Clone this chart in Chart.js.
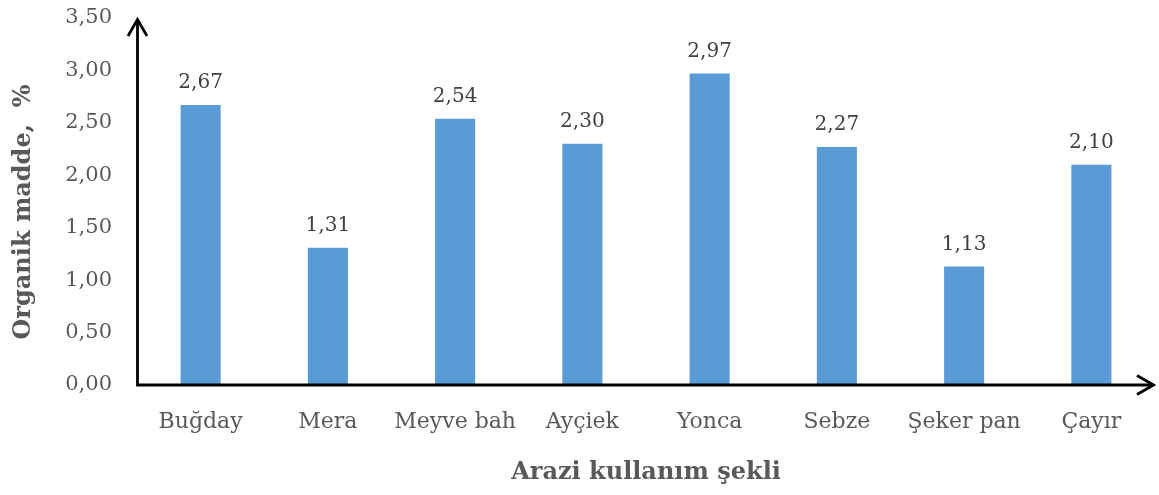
<!DOCTYPE html>
<html>
<head>
<meta charset="utf-8">
<script src="https://cdn.jsdelivr.net/npm/chart.js@4/dist/chart.umd.min.js"></script>
<style>
html,body{margin:0;padding:0;background:#fff;}
#wrap{width:1159px;height:495px;position:relative;}
</style>
</head>
<body>
<div id="wrap"><canvas id="c"></canvas></div>
<script>
const categories = ["Buğday", "Mera", "Meyve bah", "Ayçiek", "Yonca", "Sebze", "Şeker pan", "Çayır"];
const organikMadde = [2.67, 1.31, 2.54, 2.30, 2.97, 2.27, 1.13, 2.10];
const yTitle = "Organik madde,  %";
const xTitle = "Arazi kullanım şekli";

const FONT = "'DejaVu Serif', serif";
const fmt = v => v.toFixed(2).replace('.', ',');

const axesPlugin = {
  id: 'axesArrows',
  afterDatasetsDraw(chart) {
    const ctx = chart.ctx;
    const a = chart.chartArea;
    const y = chart.scales.y;
    const y0 = y.getPixelForValue(0);
    const x0 = a.left + 0.5;
    const top = y.getPixelForValue(3.5);
    ctx.save();
    ctx.strokeStyle = '#000';
    ctx.lineWidth = 2.8;
    ctx.lineCap = 'butt';
    ctx.beginPath();
    ctx.moveTo(x0, y0);
    ctx.lineTo(x0, top + 1.5);
    ctx.moveTo(x0 - 1.4, y0);
    ctx.lineTo(a.right - 1.5, y0);
    ctx.stroke();
    ctx.lineJoin = 'miter';
    ctx.beginPath();
    ctx.moveTo(x0 - 9.5, top + 18);
    ctx.lineTo(x0, top + 1.5);
    ctx.lineTo(x0 + 9.5, top + 18);
    ctx.moveTo(a.right - 18, y0 - 9.5);
    ctx.lineTo(a.right - 1.5, y0);
    ctx.lineTo(a.right - 18, y0 + 9.5);
    ctx.stroke();
    // data labels
    const meta = chart.getDatasetMeta(0);
    ctx.fillStyle = '#404040';
    ctx.font = "20px " + FONT;
    ctx.textAlign = 'center';
    ctx.textBaseline = 'alphabetic';
    meta.data.forEach((bar, i) => {
      ctx.fillText(fmt(organikMadde[i]), bar.x, bar.y - 17);
    });
    // y title
    ctx.translate(24, 212);
    ctx.rotate(-Math.PI / 2);
    ctx.fillStyle = '#595959';
    ctx.font = "bold 24px " + FONT;
    ctx.textBaseline = 'middle';
    ctx.fillText(yTitle, 0, 0);
    ctx.restore();
  }
};

new Chart(document.getElementById('c'), {
  type: 'bar',
  data: {
    labels: categories,
    datasets: [{
      data: organikMadde,
      backgroundColor: '#5B9BD5',
      borderWidth: 0,
      categoryPercentage: 1,
      barPercentage: 0.315
    }]
  },
  options: {
    responsive: true,
    maintainAspectRatio: false,
    animation: false,
    layout: { padding: { top: 18, right: 4, left: 0, bottom: 0 } },
    plugins: { legend: { display: false }, tooltip: { enabled: false } },
    scales: {
      x: {
        grid: { display: false },
        border: { display: false },
        ticks: { color: '#595959', font: { family: FONT, size: 22 }, padding: 16, maxRotation: 0 },
        title: { display: true, text: xTitle, color: '#595959', font: { family: FONT, size: 24, weight: 'bold' }, padding: { top: 10, bottom: 8 } },
        afterFit(scale) { scale.height = 110; }
      },
      y: {
        min: 0, max: 3.5,
        grid: { display: true, drawOnChartArea: false, drawTicks: true, tickLength: 22, color: 'rgba(0,0,0,0)' },
        border: { display: false },
        ticks: { stepSize: 0.5, color: '#595959', font: { family: FONT, size: 21 }, padding: 3, callback: v => fmt(v) },
        afterFit(scale) { scale.width = 137; }
      }
    }
  },
  plugins: [axesPlugin]
});
</script>
</body>
</html>
